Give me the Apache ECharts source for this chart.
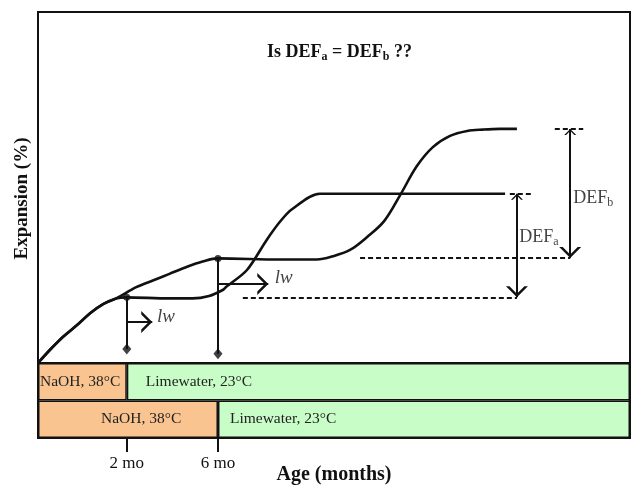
<!DOCTYPE html>
<html>
<head>
<meta charset="utf-8">
<title>Is DEFa = DEFb ??</title>
<script src="https://cdn.jsdelivr.net/npm/echarts@6/dist/echarts.min.js"></script>
<style>
  html, body { margin: 0; padding: 0; background: #fff; }
  #chart { width: 633px; height: 486px; }
</style>
</head>
<body>
<div id="chart"></div>
<script>
// conceptual axes: relative age 0-100, relative expansion 0-100
var switchAges = [15, 30.4];
var tickLabels = ['2 mo', '6 mo'];

// curve a: lime water after 2 mo
var curveAx = [0, 2, 4.2, 6.6, 8.8, 11, 13.2, 14.9, 22.1, 26.1, 28.9, 31.2, 31.8, 35.3, 38.6, 40.9, 42.9, 47.6, 61, 78.9];
var curveAy = [0, 3.7, 7.4, 10.8, 14.2, 16.8, 18.4, 18.7, 18.4, 18.4, 19.1, 20.8, 21.7, 26.5, 35, 40.3, 43.8, 48.2, 48.2, 48.2];
// curve b: lime water after 6 mo
var curveBx = [0, 2, 4.2, 6.6, 8.8, 11, 13.2, 16.6, 19.4, 22.2, 25, 27.8, 30.4, 40.9, 47.1, 49.8, 52.7, 55.6, 58.5, 61.2, 64, 66.7, 69.6, 72.5, 75.2, 78, 80.9];
var curveBy = [0, 3.7, 7.4, 10.8, 14.2, 16.8, 18.4, 21.6, 23.5, 25.4, 27.3, 28.9, 29.8, 29.5, 29.5, 30.4, 32.2, 35.9, 40.5, 47.9, 56.1, 61.5, 64.7, 66.1, 66.5, 66.7, 66.7];

// DEF levels [before, after] and where their arrows sit
var defA = [18.7, 48.2];
var defB = [29.9, 66.7];
var defArrowX = [80.9, 89.9];
// dashed guide extents [x0, x1]
var guideLowA = [34.6, 80.9], guideHighA = [79.7, 83.4];
var guideLowB = [54.4, 89.9], guideHighB = [87.3, 92.1];

// lime-water markers: dot on curve, diamond at foot, arrow tip
var markerTop = [18.7, 29.8];
var markerFoot = [4.0, 2.6];
var lwArrowY = [11.7, 22.5];
var lwArrowEnd = [19.3, 38.9];

var bandNames = ['NaOH, 38°C', 'Limewater, 23°C'];
var rows = ['2 mo switch', '6 mo switch'];

var serif = '"Liberation Serif", "DejaVu Serif", serif';
var ink = '#111';
// open arrow head, tip at the symbol centre
var openArrow = 'path://M0,0 L5,-10 L10,0 L8.4,0 L5,-6.8 L1.6,0 Z M4.95,-20 L5.05,-20 L5.05,-19.95 L4.95,-19.95 Z';

function zip(xs, ys) { return xs.map(function (x, i) { return [x, ys[i]]; }); }

var chart = echarts.init(document.getElementById('chart'));

var guides = [
  [[guideLowA[0], defA[0]], [guideLowA[1], defA[0]]],
  [[guideHighA[0], defA[1]], [guideHighA[1], defA[1]]],
  [[guideLowB[0], defB[0]], [guideLowB[1], defB[0]]],
  [[guideHighB[0], defB[1]], [guideHighB[1], defB[1]]]
];

var option = {
  animation: false,
  backgroundColor: '#fff',
  title: {
    text: '{t|Is DEF}{s|a}{t| = DEF}{s|b}{t| ??}',
    left: 262, top: 36,
    textStyle: {
      rich: {
        t: { fontFamily: serif, fontWeight: 'bold', fontSize: 18, color: ink, lineHeight: 22 },
        s: { fontFamily: serif, fontWeight: 'bold', fontSize: 12, color: ink, lineHeight: 10, verticalAlign: 'bottom' }
      }
    }
  },
  grid: [
    { left: 38, right: 3, top: 12, height: 351, outerBoundsMode: 'none', show: true, borderColor: ink, borderWidth: 2, backgroundColor: 'transparent' },
    { left: 38, right: 3, top: 363, height: 75, outerBoundsMode: 'none', show: true, borderColor: ink, borderWidth: 2, backgroundColor: 'transparent' }
  ],
  xAxis: [
    { gridIndex: 0, type: 'value', min: 0, max: 100, show: false },
    {
      gridIndex: 1, type: 'value', min: 0, max: 100,
      axisLine: { show: false },
      splitLine: { show: false },
      axisTick: { show: true, customValues: switchAges, length: 14, inside: false, lineStyle: { color: ink, width: 2 } },
      axisLabel: {
        customValues: switchAges, margin: 17,
        fontFamily: serif, fontSize: 17, color: ink,
        formatter: function (v) { return tickLabels[switchAges.indexOf(v)]; }
      },
      name: 'Age (months)', nameLocation: 'middle', nameGap: 27, nameMoveOverlap: false,
      nameTextStyle: { fontFamily: serif, fontWeight: 'bold', fontSize: 20, color: ink }
    }
  ],
  yAxis: [
    {
      gridIndex: 0, type: 'value', min: 0, max: 100,
      axisLine: { show: false }, axisTick: { show: false }, axisLabel: { show: false }, splitLine: { show: false },
      name: 'Expansion (%)', nameLocation: 'middle', nameGap: 6,
      nameTextStyle: { fontFamily: serif, fontWeight: 'bold', fontSize: 19, color: ink, padding: [0, 22, 0, 0] }
    },
    { gridIndex: 1, type: 'category', data: rows, inverse: true, show: false }
  ],
  series: [
    {
      name: 'switch at 2 mo', type: 'line', data: zip(curveAx, curveAy),
      smooth: 0.3, showSymbol: false, z: 5,
      lineStyle: { color: ink, width: 2.6 }
    },
    {
      name: 'switch at 6 mo', type: 'line', data: zip(curveBx, curveBy),
      smooth: 0.35, showSymbol: false, z: 5,
      lineStyle: { color: ink, width: 2.6 }
    },
    {
      name: 'guides', type: 'lines', coordinateSystem: 'cartesian2d', z: 3,
      data: guides.map(function (c) { return { coords: c }; }),
      lineStyle: { color: ink, width: 2, type: [5, 3], opacity: 1 }
    },
    {
      name: 'DEF arrows', type: 'lines', coordinateSystem: 'cartesian2d', z: 4,
      symbol: [openArrow, openArrow], symbolSize: [12, 22],
      data: [
        { coords: [[defArrowX[0], defA[1]], [defArrowX[0], defA[0]]] },
        { coords: [[defArrowX[1], defB[1]], [defArrowX[1], defB[0]]] }
      ],
      lineStyle: { color: ink, width: 2, opacity: 1 }
    },
    {
      name: 'lw arrows', type: 'lines', coordinateSystem: 'cartesian2d', z: 4,
      symbol: ['none', openArrow], symbolSize: [12, 22],
      data: switchAges.map(function (x, i) { return { coords: [[x, lwArrowY[i]], [lwArrowEnd[i], lwArrowY[i]]] }; }),
      lineStyle: { color: ink, width: 2, opacity: 1 }
    },
    {
      name: 'switch lines', type: 'lines', coordinateSystem: 'cartesian2d', z: 4,
      data: switchAges.map(function (x, i) { return { coords: [[x, markerTop[i]], [x, markerFoot[i]]] }; }),
      lineStyle: { color: ink, width: 2, opacity: 1 }
    },
    {
      name: 'dots', type: 'scatter', z: 6, symbol: 'circle', symbolSize: 7,
      data: zip(switchAges, markerTop), itemStyle: { color: ink }
    },
    {
      name: 'feet', type: 'scatter', z: 6, symbol: 'diamond', symbolSize: [9, 11],
      data: zip(switchAges, markerFoot), itemStyle: { color: ink }
    },
    {
      name: 'notes', type: 'scatter', z: 7, symbolSize: 0, silent: true,
      data: [
        { value: [lwArrowEnd[0] + 0.8, lwArrowY[0] + 1.4], label: { formatter: '{i|lw}' } },
        { value: [lwArrowEnd[1] + 1.1, lwArrowY[1] + 1.7], label: { formatter: '{i|lw}' } },
        { value: [defArrowX[0] + 0.4, 35.9], label: { formatter: '{m|DEF}{s|a}' } },
        { value: [defArrowX[1] + 0.5, 47], label: { formatter: '{m|DEF}{s|b}' } }
      ],
      label: {
        show: true, position: 'right', distance: 0,
        rich: {
          i: { fontFamily: serif, fontStyle: 'italic', fontSize: 19, color: ink, lineHeight: 20 },
          m: { fontFamily: serif, fontSize: 18, color: ink, lineHeight: 22 },
          s: { fontFamily: serif, fontSize: 12, color: ink, lineHeight: 10, verticalAlign: 'bottom' }
        }
      }
    },
    {
      name: bandNames[0], type: 'bar', xAxisIndex: 1, yAxisIndex: 1, stack: 'band',
      barCategoryGap: '0%',
      data: switchAges.map(function (v, i) {
        return { value: v, label: { distance: [2, 63][i] } };
      }),
      itemStyle: { color: '#FAC491', borderColor: ink, borderWidth: 1.5 },
      label: { show: true, position: 'insideLeft', formatter: '{a}', fontFamily: serif, fontSize: 15.5, color: '#222' }
    },
    {
      name: bandNames[1], type: 'bar', xAxisIndex: 1, yAxisIndex: 1, stack: 'band',
      barCategoryGap: '0%',
      data: switchAges.map(function (v, i) {
        return { value: 100 - v, label: { distance: [19, 12][i] } };
      }),
      itemStyle: { color: '#C8FDC8', borderColor: ink, borderWidth: 1.5 },
      label: { show: true, position: 'insideLeft', formatter: '{a}', fontFamily: serif, fontSize: 15.5, color: '#222' }
    }
  ]
};

chart.setOption(option);
</script>
</body>
</html>
